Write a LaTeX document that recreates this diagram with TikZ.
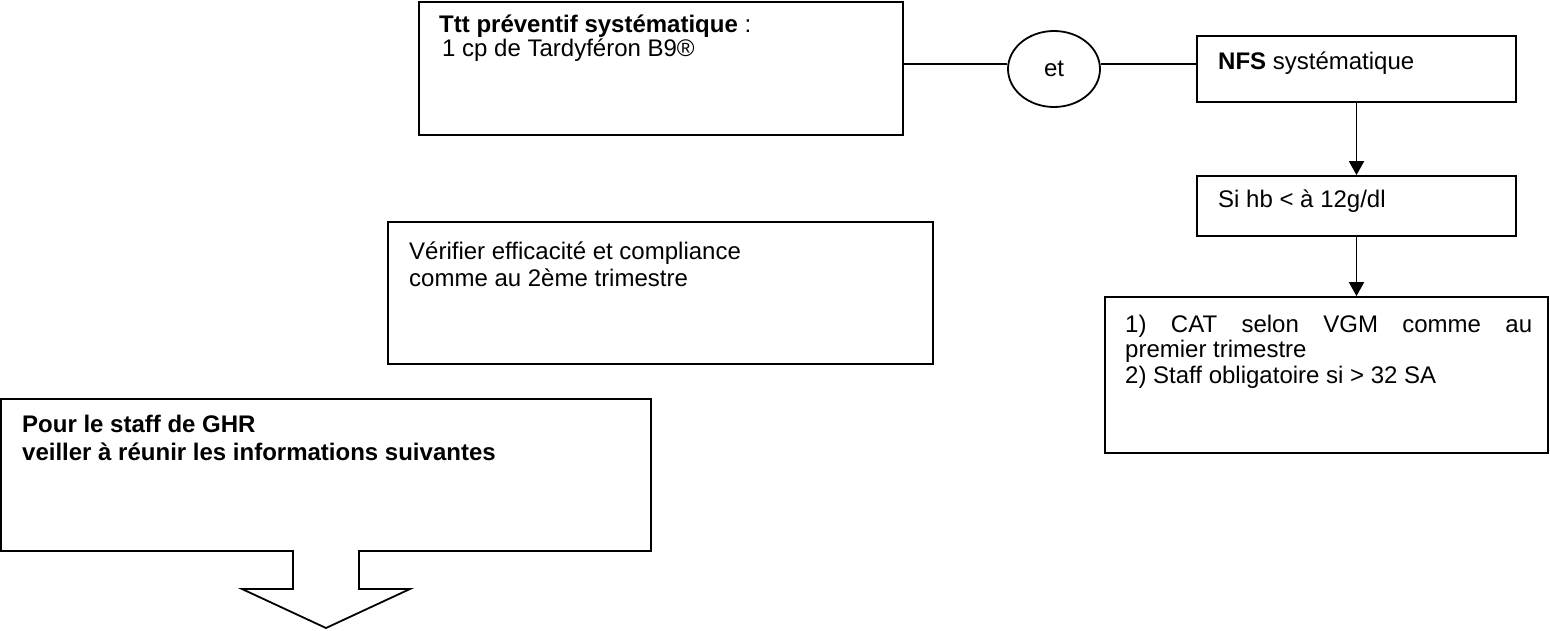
\documentclass[tikz,border=0pt]{standalone}
\usepackage{fontspec}
\setmainfont{Liberation Sans}
\usetikzlibrary{shapes.geometric,arrows.meta}

\begin{document}
\begin{tikzpicture}[x=1pt,y=-1pt,
  frame/.style={draw,line width=1.8pt,rectangle,inner sep=0pt},
  label/.style={inner sep=0pt,anchor=base west,font=\fontsize{24}{26}\selectfont},
  link/.style={line width=1.8pt},
  flow/.style={line width=1.8pt,-{Triangle[length=14pt,width=15pt]}}]
\useasboundingbox (0,0) rectangle (1550,631);

% boxes
\node[frame,minimum width=484pt,minimum height=133pt] (ttt) at (661,68.5) {};
\node[draw,line width=1.8pt,ellipse,minimum width=92pt,minimum height=76pt,inner sep=0pt,
      font=\fontsize{24}{26}\selectfont] (et) at (1054,69) {et};
\node[frame,minimum width=319pt,minimum height=66pt] (nfs) at (1356.5,69) {};
\node[frame,minimum width=319pt,minimum height=60pt] (si) at (1356.5,206) {};
\node[frame,minimum width=443pt,minimum height=156pt] (cat) at (1326.5,375) {};
\node[frame,minimum width=545pt,minimum height=142pt] (verif) at (660.5,293) {};

% box with the downward block arrow
\draw[line width=1.8pt,line join=miter]
  (1,399) -- (651,399) -- (651,551) -- (359,551) -- (359,589) -- (410,589)
  -- (326,628) -- (242,589) -- (293,589) -- (293,551) -- (1,551) -- cycle;

% texts
\node[label] (ttttext) at (439,33) {\parbox[t]{440pt}{\baselineskip=23.5pt
  \textbf{Ttt préventif systématique} :\\
  \hspace*{3pt}1 cp de Tardyféron B9®}};
\node[label] (nfstext) at (1218,70) {\textbf{NFS} systématique};
\node[label] (sitext) at (1218,208) {Si hb < à 12g/dl};
\node[label] (veriftext) at (409,259) {\parbox[t]{500pt}{\baselineskip=27pt
  Vérifier efficacité et compliance\\
  comme au 2ème trimestre}};
\node[label] (cattext) at (1125,332) {\parbox[t]{407pt}{\baselineskip=25.5pt
  \makebox[407pt][s]{1) CAT selon VGM comme au}\\
  premier trimestre\\
  2) Staff obligatoire si > 32 SA}};
\node[label] (ghrtext) at (22,432) {\parbox[t]{620pt}{\baselineskip=28pt\bfseries
  Pour le staff de GHR\\
  veiller à réunir les informations suivantes}};

% connectors
\coordinate (yl) at (0,64);
\draw[link] (ttt.east |- yl) -- (yl -| et.west);
\draw[link] (yl -| et.east) -- (yl -| nfs.west);
\draw[flow] (nfs.south) -- (si.north);
\draw[flow] (si.south) -- (si.south |- cat.north);
\end{tikzpicture}
\end{document}
